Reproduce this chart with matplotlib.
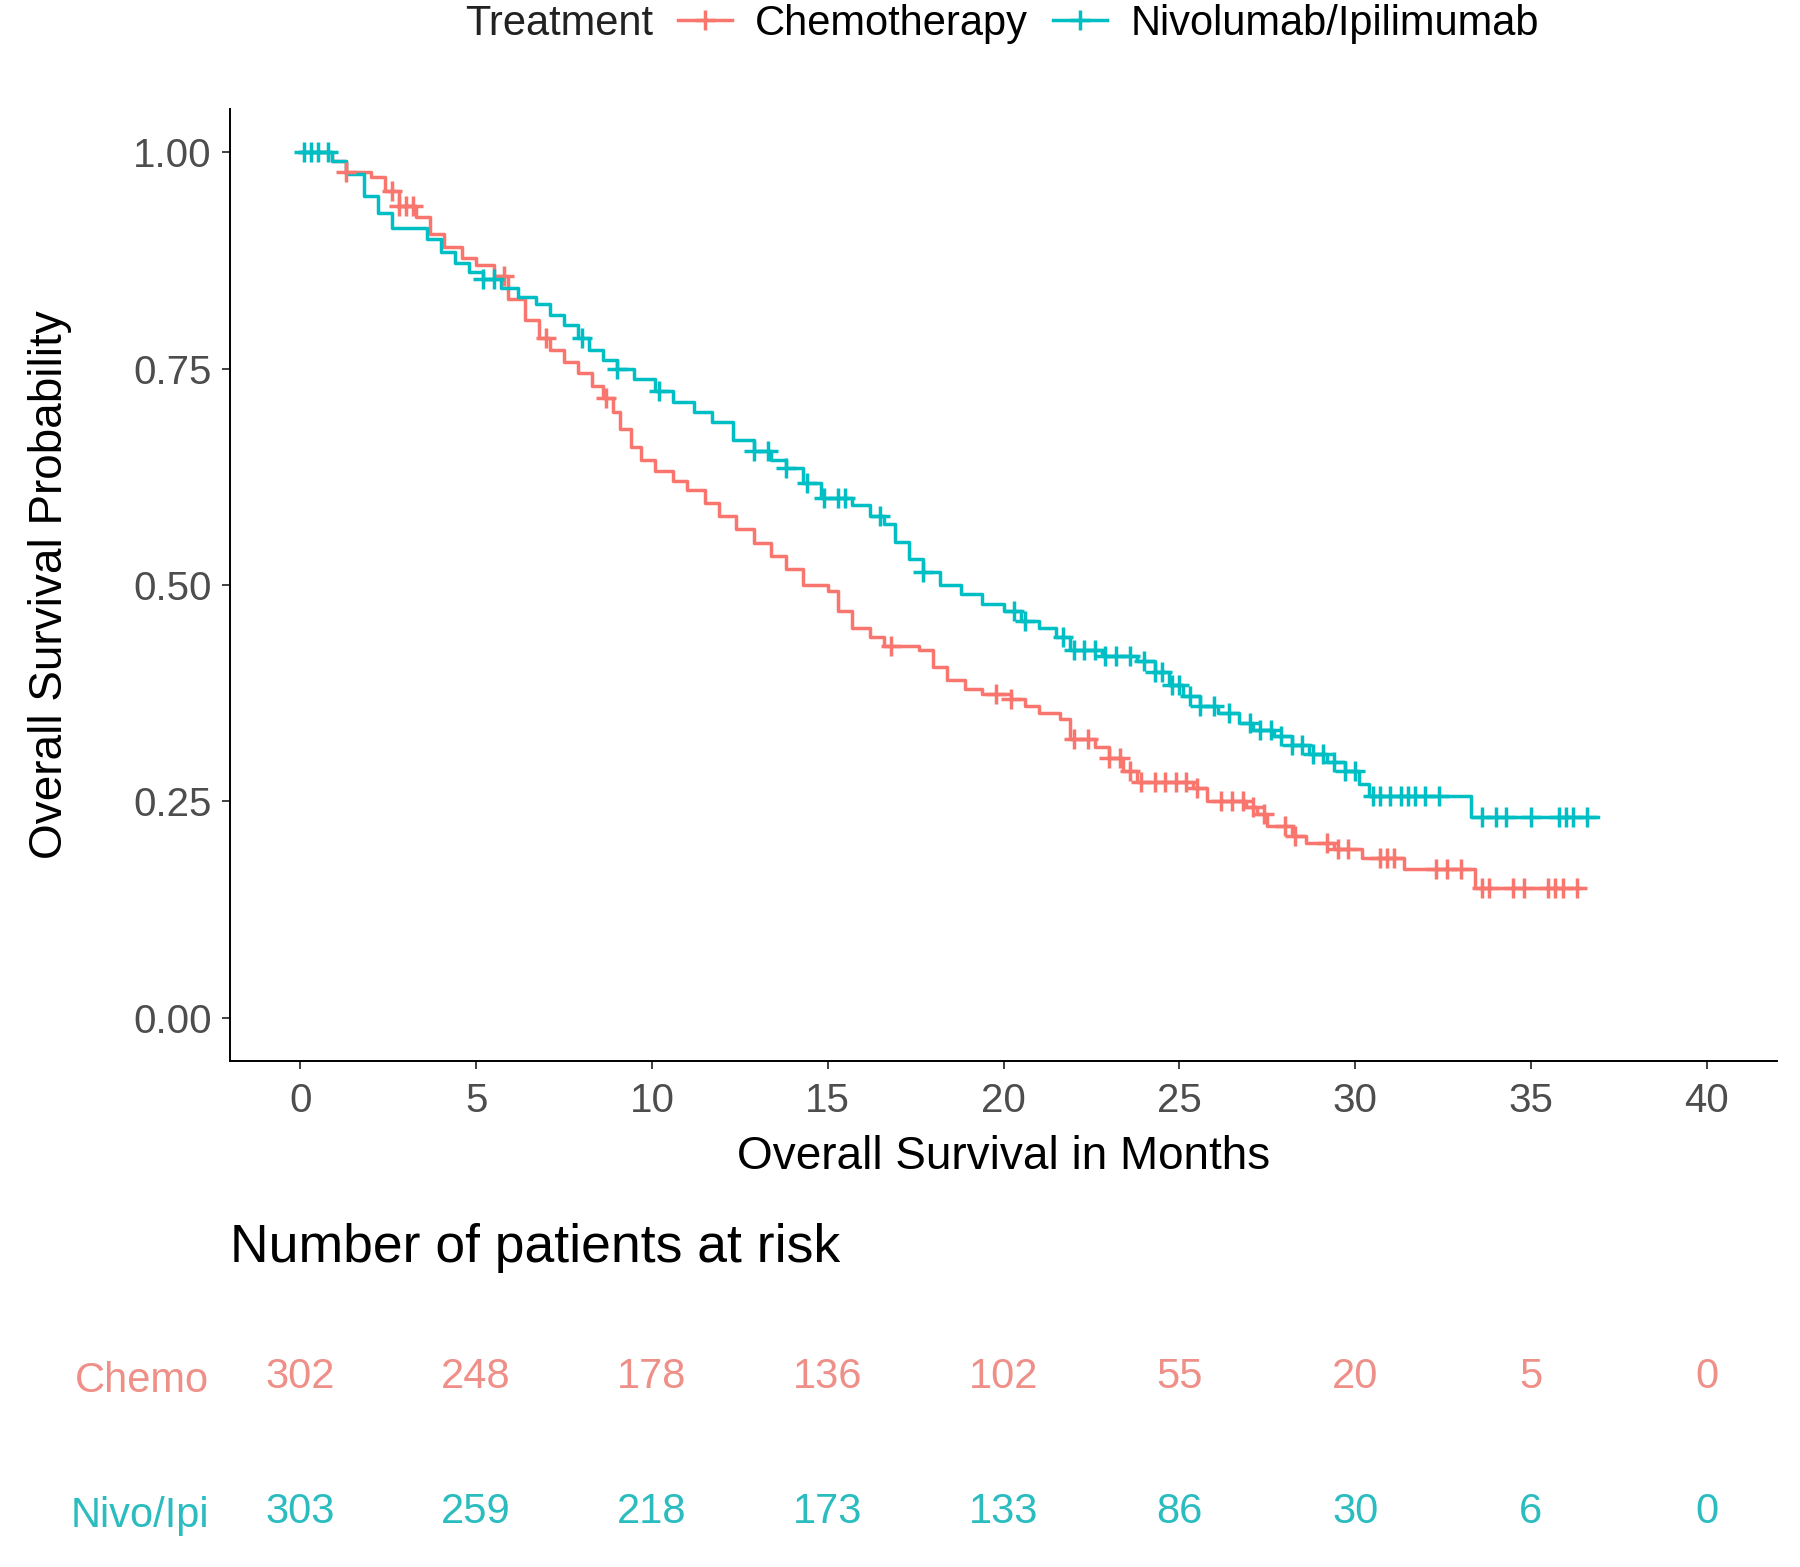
import numpy as np
import matplotlib
matplotlib.use("Agg")
import matplotlib.pyplot as plt
from matplotlib.lines import Line2D

plt.rcParams['font.family'] = ['Liberation Sans', 'DejaVu Sans']

# ---------------- data ----------------
groups = ["Chemotherapy", "Nivolumab/Ipilimumab"]
risk_labels = ["Chemo", "Nivo/Ipi"]
colors = ["#F8766D", "#00BFC4"]
risk_colors = ["#EE8F88", "#2BBCC0"]

chemo_t = [0, 0.9, 1.3, 2.0, 2.4, 2.8, 3.3, 3.7, 4.1, 4.6, 5.0, 5.5, 5.9, 6.4, 6.8, 7.1,
           7.5, 7.9, 8.3, 8.6, 8.9, 9.1, 9.4, 9.7, 10.1, 10.6, 11.0, 11.5, 11.9, 12.4,
           12.9, 13.4, 13.8, 14.3, 15.0, 15.3, 15.7, 16.2, 16.6, 17.6, 18.0, 18.4, 18.9,
           19.4, 20.2, 20.6, 21.0, 21.6, 21.9, 22.6, 23.0, 23.4, 23.8, 25.4, 25.8, 26.9,
           27.2, 27.5, 28.2, 28.6, 29.4, 30.2, 31.4, 33.4]
chemo_s = [1.0, 0.99, 0.977, 0.972, 0.955, 0.938, 0.925, 0.905, 0.89, 0.878, 0.87, 0.857,
           0.83, 0.806, 0.785, 0.772, 0.758, 0.745, 0.73, 0.716, 0.70, 0.68, 0.66, 0.645,
           0.632, 0.62, 0.61, 0.595, 0.58, 0.565, 0.549, 0.533, 0.518, 0.50, 0.493, 0.47,
           0.45, 0.44, 0.43, 0.425, 0.405, 0.39, 0.38, 0.374, 0.368, 0.36, 0.352, 0.345,
           0.322, 0.313, 0.30, 0.285, 0.272, 0.265, 0.25, 0.244, 0.235, 0.222, 0.21,
           0.202, 0.195, 0.185, 0.172, 0.15]
chemo_end = 36.4
chemo_cens = [1.3, 2.6, 2.8, 3.0, 3.2, 5.8, 7.0, 8.7, 16.8, 19.8, 20.2, 22.0, 22.4, 23.0,
              23.3, 23.6, 23.9, 24.3, 24.6, 24.9, 25.2, 25.5, 26.2, 26.5, 26.8, 27.1, 27.4,
              28.0, 28.3, 29.2, 29.5, 29.8, 30.7, 30.9, 31.1, 32.3, 32.6, 33.0, 33.6, 33.8,
              34.5, 34.8, 35.5, 35.7, 35.9, 36.3]

nivo_t = [0, 0.9, 1.3, 1.8, 2.2, 2.6, 3.6, 4.0, 4.4, 4.8, 5.2, 5.7, 6.2, 6.7, 7.1, 7.5,
          7.9, 8.2, 8.6, 9.0, 9.5, 10.1, 10.6, 11.2, 11.7, 12.3, 12.9, 13.4, 13.8, 14.3,
          14.8, 15.7, 16.2, 16.6, 16.9, 17.3, 17.7, 18.2, 18.8, 19.4, 20.0, 20.5, 21.0,
          21.5, 21.9, 22.8, 23.8, 24.3, 24.7, 25.1, 25.6, 26.1, 26.7, 27.1, 27.7, 28.2,
          28.7, 29.2, 29.7, 30.1, 30.4, 33.3]
nivo_s = [1.0, 0.99, 0.975, 0.95, 0.93, 0.912, 0.90, 0.885, 0.872, 0.862, 0.853, 0.843,
          0.833, 0.825, 0.812, 0.80, 0.785, 0.772, 0.76, 0.75, 0.738, 0.724, 0.712, 0.70,
          0.688, 0.668, 0.655, 0.645, 0.635, 0.618, 0.60, 0.592, 0.58, 0.57, 0.55, 0.53,
          0.515, 0.50, 0.49, 0.478, 0.47, 0.458, 0.45, 0.44, 0.425, 0.418, 0.412, 0.40,
          0.385, 0.372, 0.36, 0.352, 0.34, 0.332, 0.325, 0.315, 0.305, 0.295, 0.285,
          0.27, 0.256, 0.232]
nivo_end = 36.9
nivo_cens = [0.1, 0.3, 0.5, 0.8, 5.2, 5.5, 8.0, 9.0, 10.2, 12.9, 13.3, 13.8, 14.4, 14.9,
             15.3, 15.5, 16.5, 17.7, 20.3, 20.6, 21.7, 22.0, 22.3, 22.6, 22.9, 23.2, 23.6,
             24.0, 24.3, 24.5, 24.8, 25.0, 25.3, 25.6, 26.0, 26.4, 27.0, 27.3, 27.6, 27.9,
             28.2, 28.5, 28.8, 29.1, 29.4, 29.7, 30.0, 30.5, 30.7, 31.0, 31.3, 31.5, 31.7,
             32.0, 32.4, 33.6, 34.0, 34.3, 35.0, 35.8, 36.0, 36.2, 36.6]

risk_times = [0, 5, 10, 15, 20, 25, 30, 35, 40]
risk_chemo = [302, 248, 178, 136, 102, 55, 20, 5, 0]
risk_nivo = [303, 259, 218, 173, 133, 86, 30, 6, 0]

y_ticks = [0.00, 0.25, 0.50, 0.75, 1.00]
x_ticks = [0, 5, 10, 15, 20, 25, 30, 35, 40]

# ---------------- figure ----------------
W, H = 1800, 1567
fig = plt.figure(figsize=(W / 100, H / 100), dpi=100)

def fx(px):
    return px / W

def fy(py):
    return 1 - py / H

ax = fig.add_axes([fx(230), fy(1061), fx(1777) - fx(230), fy(109) - fy(1061)])

curves = [(chemo_t, chemo_s, chemo_end, chemo_cens), (nivo_t, nivo_s, nivo_end, nivo_cens)]
for (t, s, end, cens), col in zip(curves, colors):
    tt = np.array(t + [end])
    ss = np.array(s + [s[-1]])
    ax.step(tt, ss, where='post', color=col, lw=2.5, zorder=3)
    idx = np.searchsorted(np.array(t), np.array(cens), side='right') - 1
    cy = np.array(s)[idx]
    ax.plot(cens, cy, linestyle='none', marker='+', markersize=15, mew=2.5,
            color=col, zorder=4)

ax.set_xlim(-2, 42)
ax.set_ylim(-0.05, 1.05)
ax.set_xticks(x_ticks)
ax.set_yticks(y_ticks)
ax.set_yticklabels([f"{v:.2f}" for v in y_ticks])
for sp in ['top', 'right']:
    ax.spines[sp].set_visible(False)
for sp in ['left', 'bottom']:
    ax.spines[sp].set_linewidth(1.4)
    ax.spines[sp].set_color('black')
ax.tick_params(axis='both', labelsize=29, labelcolor='#4D4D4D', color='#333333',
               length=6, width=1.3, pad=7)
ax.tick_params(axis='x', pad=9)
ax.set_xlabel("Overall Survival in Months", fontsize=33, labelpad=11)
ax.set_ylabel("Overall Survival Probability", fontsize=33, labelpad=44)

# legend
fig.text(fx(465), fy(24), "Treatment", fontsize=30, va='center', ha='left', color='#222222')
handles = [Line2D([], [], color=c, lw=2.5, marker='+', markersize=15, mew=2.5) for c in colors]
fig.legend(handles, groups, loc='center left', bbox_to_anchor=(fx(678), fy(24)), ncol=2,
           frameon=False, fontsize=30, handlelength=1.3, handletextpad=0.55,
           columnspacing=0.6, borderaxespad=0, borderpad=0)

# risk table
fig.text(fx(230), fy(1248), "Number of patients at risk", fontsize=38.5, va='center', ha='left')
ax2 = fig.add_axes([fx(230), fy(1566), fx(1777) - fx(230), fy(1309.5) - fy(1566)])
ax2.set_xlim(-2, 42)
ax2.set_ylim(-0.4, 1.5)
for sp in ax2.spines.values():
    sp.set_visible(False)
ax2.set_xticks([])
ax2.set_yticks([1, 0])
ax2.set_yticklabels(risk_labels, fontsize=30)
ax2.tick_params(axis='y', length=0, pad=15)
for lab, c in zip(ax2.get_yticklabels(), risk_colors):
    lab.set_color(c)
for row, vals, c in zip([1, 0], [risk_chemo, risk_nivo], risk_colors):
    for t, v in zip(risk_times, vals):
        ax2.text(t, row, str(v), ha='center', va='center', fontsize=30, color=c)

fig.savefig("out.png", dpi=100)
